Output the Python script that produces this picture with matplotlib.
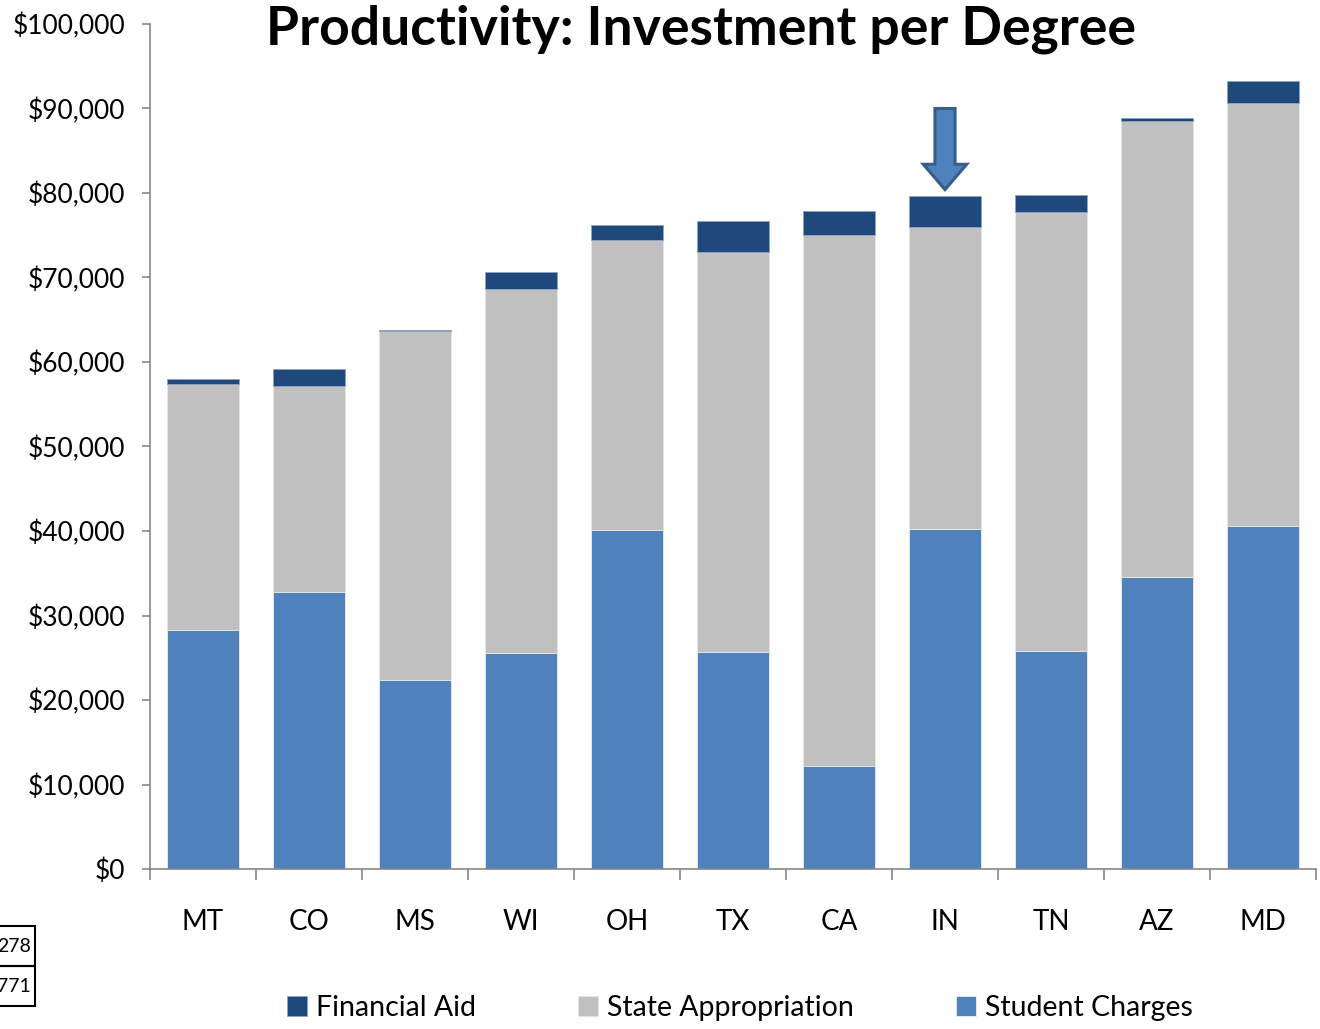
import matplotlib
matplotlib.use("Agg")
import matplotlib.pyplot as plt
from matplotlib.ticker import FuncFormatter, FixedLocator
from matplotlib.patches import Rectangle, FancyArrow
import numpy as np

states = ["MT", "CO", "MS", "WI", "OH", "TX", "CA", "IN", "TN", "AZ", "MD"]
student_charges = [28300, 32800, 22400, 25600, 40100, 25700, 12200, 40200, 25800, 34600, 40600]
state_appropriation = [29100, 24400, 41300, 43000, 34300, 47300, 62800, 35800, 52000, 53900, 50100]
financial_aid = [600, 2000, 100, 2100, 1800, 3700, 2900, 3600, 2000, 400, 2600]
table_cells = ["278", "771"]

C_STUDENT = "#4f81bd"
C_STATE = "#c0c0c0"
C_AID = "#1f497d"
FONT = ["Lato", "DejaVu Sans"]

plt.rcParams["font.family"] = FONT

fig = plt.figure(figsize=(13.2, 10.29), dpi=100)
ax = fig.add_axes([150/1320, 1-869/1029, (1316-150)/1320, (869-24)/1029])

x = np.arange(len(states))
w = 0.68
s = np.array(student_charges)
a = np.array(state_appropriation)
f = np.array(financial_aid)
ax.bar(x, s, w, color=C_STUDENT, edgecolor="#e8eef6", linewidth=0.6, label="Student Charges", zorder=2)
ax.bar(x, a, w, bottom=s, color=C_STATE, edgecolor="#e6e6e6", linewidth=0.6, label="State Appropriation", zorder=2)
ax.bar(x, f, w, bottom=s + a, color=C_AID, edgecolor="#8ea4c2", linewidth=0.6, label="Financial Aid", zorder=2)

ax.set_xlim(-0.5, len(states) - 0.5)
ax.set_ylim(0, 100000)
ax.set_yticks(np.arange(0, 100001, 10000))
ax.yaxis.set_major_formatter(FuncFormatter(lambda v, p: f"${int(v):,}"))
ax.tick_params(axis="y", direction="out", length=6, width=1.2, color="#868686",
               labelsize=19, pad=12)

ax.xaxis.set_major_locator(FixedLocator(np.arange(-0.5, len(states), 1.0)))
ax.xaxis.set_minor_locator(FixedLocator(x))
ax.set_xticklabels([], minor=False)
ax.set_xticklabels(states, minor=True)
ax.tick_params(axis="x", which="major", direction="out", length=8, width=1.2, color="#868686")
ax.tick_params(axis="x", which="minor", length=0, labelsize=20, pad=29)

for side in ("top", "right"):
    ax.spines[side].set_visible(False)
for side in ("left", "bottom"):
    ax.spines[side].set_color("#868686")
    ax.spines[side].set_linewidth(1.2)

# arrow pointing at IN
i_in = states.index("IN")
top_in = s[i_in] + a[i_in] + f[i_in]
y_start = 90000
ax.add_patch(FancyArrow(i_in, y_start, 0, -(y_start - top_in - 800), width=0.19, head_width=0.41,
                        head_length=3000, length_includes_head=True,
                        facecolor="#4f81bd", edgecolor="#385d8a", linewidth=2.2, zorder=4))

fig.text(701/1320, 1-45/1029, "Productivity: Investment per Degree", ha="center", va="baseline",
         fontsize=38.5, fontweight="bold")

handles, labels = ax.get_legend_handles_labels()
order = [2, 1, 0]
fig.legend([handles[k] for k in order], [labels[k] for k in order], loc="center",
           bbox_to_anchor=(740/1320, 1-1008/1029), ncol=3, frameon=False, fontsize=20.5,
           handlelength=0.7, handleheight=0.7, handletextpad=0.3, columnspacing=3.6)

# table cells at bottom-left (partly off the left edge, as in the source)
for (y0, txt) in zip([926, 966], table_cells):
    fig.patches.append(Rectangle((-10/1320, 1-(y0+40)/1029), 45/1320, 40/1029,
                                 transform=fig.transFigure, fill=False, edgecolor="black",
                                 linewidth=1.5, figure=fig))
    fig.text(31/1320, 1-(y0+20)/1029, txt, ha="right", va="center", fontsize=14)

fig.savefig("out.png", dpi=100, facecolor="white")
